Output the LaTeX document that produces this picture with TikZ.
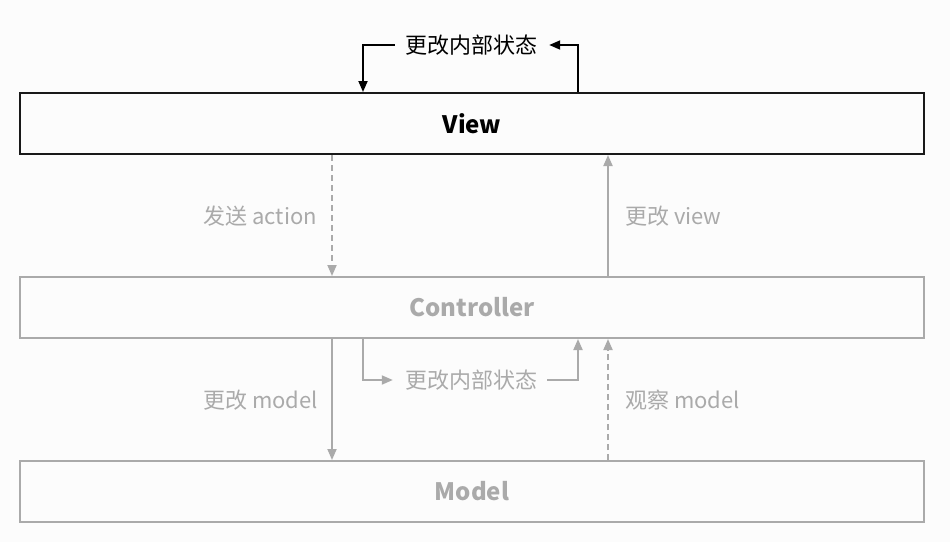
\documentclass[tikz,border=0pt]{standalone}
\usepackage{fontspec}
\setmainfont{Noto Sans CJK SC}
\usetikzlibrary{arrows.meta}
\definecolor{mvcgray}{HTML}{AAAAAA}
\definecolor{paper}{HTML}{FCFCFC}
\tikzset{
  tier/.style={draw, line width=2pt, minimum width=904pt, minimum height=61pt, inner sep=0pt,
    font=\fontsize{24}{28}\selectfont\bfseries},
  lbl/.style={inner sep=0pt, font=\fontsize{22}{26}\selectfont},
  flow/.style={line width=1.8pt, -{Triangle[length=11pt,width=9pt]}},
  faded/.style={draw=mvcgray, text=mvcgray},
}
% one horizontal tier: name, y, text, extra style
\newcommand{\tierbox}[4]{
\node [tier,#4] (#1) at (472,#2) {#3};
}

\begin{document}
\begin{tikzpicture}[x=1pt,y=-1pt]
\fill [paper] (0,0) rectangle (950,542);
\useasboundingbox (0,0) rectangle (950,542);

\tierbox{view}{123.5}{View}{draw=black!90}
\tierbox{ctrl}{307.5}{Controller}{faded}
\tierbox{model}{491.5}{Model}{faded}

% labels
\node [lbl] (viewloop) at (471,45) {更改内部状态};
\node [lbl,mvcgray] (ctrlloop) at (471,380) {更改内部状态};
\node [lbl,mvcgray,anchor=east] (send) at (317,216) {发送 action};
\node [lbl,mvcgray,anchor=west] (upd) at (625,216) {更改 view};
\node [lbl,mvcgray,anchor=east] (chg) at (318,400) {更改 model};
\node [lbl,mvcgray,anchor=west] (obs) at (625,400) {观察 model};

% view loop
\draw [flow] ([xshift=106pt]view.north) |- ([xshift=12pt]viewloop.east);
\draw [flow] ([xshift=-10pt]viewloop.west) -| ([xshift=-109pt]view.north);

% view <-> controller
\draw [flow,faded,dash pattern=on 6pt off 4pt] ([xshift=-140pt]view.south) -- ([xshift=-140pt]ctrl.north);
\draw [flow,faded] ([xshift=136pt]ctrl.north) -- ([xshift=136pt]view.south);

% controller loop
\draw [flow,faded] ([xshift=-109pt]ctrl.south) |- ([xshift=-12pt]ctrlloop.west);
\draw [flow,faded] ([xshift=10pt]ctrlloop.east) -| ([xshift=106pt]ctrl.south);

% controller <-> model
\draw [flow,faded] ([xshift=-140pt]ctrl.south) -- ([xshift=-140pt]model.north);
\draw [flow,faded,dash pattern=on 6pt off 4pt] ([xshift=136pt]model.north) -- ([xshift=136pt]ctrl.south);
\end{tikzpicture}
\end{document}
